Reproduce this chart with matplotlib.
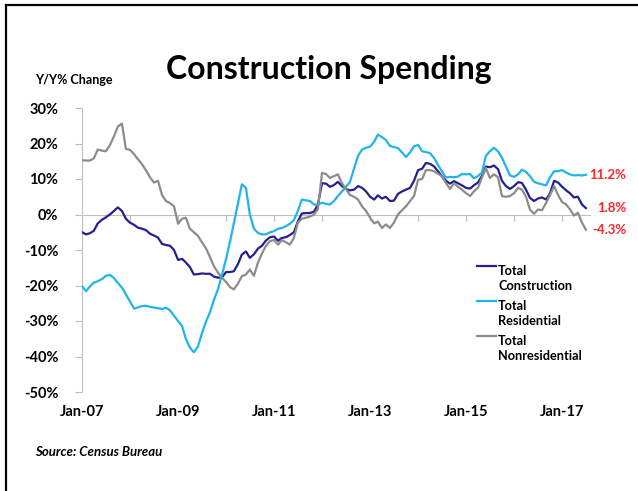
import matplotlib
matplotlib.use("Agg")
import matplotlib.pyplot as plt
import matplotlib.dates as mdates
import pandas as pd
from matplotlib.lines import Line2D
from matplotlib.legend_handler import HandlerLine2D

plt.rcParams['font.family'] = ['Lato', 'DejaVu Sans']

# monthly Y/Y % change, Jan-07 .. Jul-17
construction = [
    -5.0, -5.6, -5.3, -4.6, -2.5, -1.5, -0.8, 0.0, 1.0, 2.0, 1.0, -1.2,
    -2.3, -2.9, -3.7, -4.0, -4.4, -5.4, -5.9, -6.5, -8.3, -8.6, -8.8, -10.0,
    -12.8, -12.5, -13.5, -14.8, -16.9, -16.8, -16.6, -16.7, -16.7, -17.5, -17.8, -17.7,
    -16.2, -16.2, -16.0, -14.0, -11.3, -10.4, -12.2, -11.2, -9.6, -8.8, -7.3, -6.4,
    -6.2, -7.4, -6.6, -6.4, -5.8, -5.0, -2.0, 0.3, 0.4, 0.4, 0.8, 2.8,
    8.8, 8.7, 7.8, 8.3, 9.2, 8.0, 7.2, 6.8, 7.0, 8.0, 7.5, 6.5,
    5.0, 4.2, 5.4, 4.5, 5.0, 3.8, 3.9, 5.8, 6.5, 7.0, 7.5, 9.5,
    12.5, 12.9, 14.5, 14.3, 13.6, 12.2, 10.8, 9.5, 8.7, 9.4, 8.8, 8.2,
    7.5, 7.3, 8.2, 9.0, 10.8, 13.5, 13.3, 13.8, 12.8, 9.5, 8.0, 7.2,
    8.0, 9.1, 8.9, 7.0, 4.7, 3.8, 4.5, 4.8, 4.2, 6.0, 9.5, 9.0,
    7.8, 6.8, 6.0, 4.8, 5.0, 2.8, 1.8,
]
residential = [
    -20.2, -21.6, -20.3, -19.2, -18.8, -18.2, -17.3, -17.0, -17.9, -19.3, -20.6, -22.5,
    -24.5, -26.5, -26.2, -25.8, -25.7, -26.0, -26.2, -26.4, -26.6, -26.3, -27.0, -28.5,
    -30.0, -31.5, -35.0, -37.5, -38.8, -37.2, -33.5, -30.2, -27.5, -24.0, -21.0, -17.0,
    -12.5, -7.5, -2.5, 3.0, 8.5, 7.5, 0.0, -4.0, -5.2, -5.6, -5.6, -5.0,
    -4.7, -4.0, -3.8, -3.3, -2.6, -1.6, 1.0, 4.2, 4.0, 3.8, 2.8, 2.8,
    3.3, 3.0, 2.8, 3.8, 5.2, 6.5, 7.8, 9.2, 13.0, 16.5, 18.3, 18.8,
    19.1, 20.5, 22.5, 21.8, 21.0, 19.3, 19.0, 18.7, 17.5, 16.2, 17.5, 19.2,
    19.6, 17.8, 17.6, 17.3, 16.0, 14.0, 12.2, 10.4, 10.6, 10.5, 10.7, 11.4,
    11.3, 11.4, 10.2, 10.8, 11.8, 16.5, 17.8, 18.8, 17.8, 16.0, 13.5, 11.0,
    10.6, 11.3, 12.6, 12.0, 10.8, 9.2, 8.8, 8.5, 8.2, 10.5, 12.2, 12.2,
    12.5, 11.8, 11.3, 11.0, 11.1, 11.0, 11.2,
]
nonresidential = [
    15.3, 15.2, 15.2, 15.8, 18.3, 18.0, 17.8, 19.5, 22.0, 24.8, 25.6, 18.5,
    18.2, 17.0, 15.6, 14.2, 12.5, 10.5, 9.0, 9.5, 5.5, 3.8, 3.2, 2.3,
    -2.6, -1.2, -0.9, -4.0, -5.0, -6.0, -7.8, -9.5, -12.0, -14.6, -16.4, -17.8,
    -19.0, -20.5, -21.1, -19.5, -17.4, -16.9, -15.5, -17.3, -13.5, -11.0, -8.8, -7.5,
    -7.2, -8.5, -7.2, -7.8, -8.5, -6.6, -2.3, -1.2, -0.9, -0.6, 0.0, 1.5,
    11.7, 11.4, 10.3, 10.8, 11.3, 8.8, 7.2, 5.5, 5.0, 4.2, 2.3, 1.0,
    -0.9, -2.5, -2.0, -3.8, -2.8, -3.8, -2.3, 0.0, 1.2, 2.3, 3.8, 5.2,
    9.8, 10.0, 12.5, 12.5, 12.2, 11.5, 10.8, 8.9, 7.2, 8.8, 7.8, 7.0,
    6.0, 5.2, 6.5, 7.5, 10.3, 13.1, 10.3, 11.3, 10.5, 5.2, 5.0, 5.2,
    6.0, 7.5, 7.0, 5.0, 1.4, 0.2, 1.4, 1.2, 3.3, 5.5, 8.0, 5.5,
    3.5, 2.8, 1.5, -0.3, 0.5, -2.3, -4.3,
]

labels = ["Total\nConstruction", "Total\nResidential", "Total\nNonresidential"]
colors = ["#24218F", "#21B4EA", "#8C8C8C"]

months = pd.date_range("2007-01-01", periods=len(construction), freq="MS")
x = mdates.date2num(months)
year_ticks = mdates.date2num(pd.date_range("2007-01-01", "2017-01-01", freq="YS"))
label_ticks = year_ticks[::2]
tick_names = [d.strftime("%b-%y") for d in pd.date_range("2007-01-01", "2017-01-01", freq="2YS")]

LEG_SIZE = 9.2
LEG_LINESPACING = 1.32


class TopLineHandler(HandlerLine2D):
    # put the legend line next to the first row of a two-row label
    def create_artists(self, legend, orig_handle, xdescent, ydescent,
                       width, height, fontsize, trans):
        row = fontsize * 1.05
        return super().create_artists(legend, orig_handle, xdescent, ydescent - 2 * row,
                                      width, height, fontsize, trans)


fig = plt.figure(figsize=(6.38, 4.91), dpi=100)
ax = fig.add_axes([82 / 638, 99 / 491, 508 / 638, 284 / 491])

grey = "#BFBFBF"
handles = []
for lab, vals, col in zip(labels, [construction, residential, nonresidential], colors):
    h, = ax.plot(x, vals, color=col, lw=1.6, label=lab, zorder=3)
    handles.append(h)

ax.set_ylim(-50, 30)
ax.set_yticks(range(-50, 31, 10))
ax.set_yticklabels([f"{v}%" for v in range(-50, 31, 10)])
ax.set_xlim(x[0], mdates.date2num(pd.Timestamp("2017-08-01")))

ax.spines["top"].set_visible(False)
ax.spines["right"].set_visible(False)
ax.spines["left"].set_color(grey)
ax.spines["bottom"].set_color(grey)
ax.spines["bottom"].set_position(("data", 0))
ax.set_xticks(year_ticks)
ax.tick_params(axis="x", direction="out", length=4, color=grey, labelbottom=False)
ax.tick_params(axis="y", direction="out", length=5, color=grey, pad=12,
               labelsize=10.5)
for t in ax.get_yticklabels():
    t.set_fontweight("bold")

sec = ax.secondary_xaxis("bottom")
sec.set_xticks(label_ticks)
sec.set_xticklabels(tick_names, fontsize=10.5, fontweight="bold")
sec.tick_params(length=0, pad=9)
sec.spines["bottom"].set_visible(False)

# end-of-series value labels
for vals in [construction, residential, nonresidential]:
    ax.annotate(f"{vals[-1]:.1f}%", xy=(x[-1], vals[-1]), xytext=(29, 0),
                textcoords="offset points", ha="right", va="center",
                color="#FF2626", fontsize=9.5, fontweight="bold")

leg = ax.legend(handles=handles, loc="upper left", frameon=False,
                bbox_to_anchor=(477 / 638, 1 - 265 / 491),
                bbox_transform=fig.transFigure,
                borderpad=0, borderaxespad=0, handlelength=1.45,
                handletextpad=0.2, labelspacing=0.62,
                prop={"weight": "bold", "size": LEG_SIZE},
                handler_map={Line2D: TopLineHandler()})
for t in leg.get_texts():
    t.set_linespacing(LEG_LINESPACING)

fig.text(329 / 638, 1 - 69 / 491, "Construction Spending", ha="center",
         va="center", fontsize=23, fontweight="bold")
fig.text(35 / 638, 1 - 80 / 491, "Y/Y% Change", ha="left", va="center",
         fontsize=9, fontweight="bold")
fig.text(35 / 638, 1 - 452 / 491, "Source: Census Bureau", ha="left",
         va="center", fontsize=9.5, fontweight="bold", style="italic")

# frame lines on top and left edge
fig.add_artist(Line2D([6 / 638, 1], [1 - 5 / 491, 1 - 5 / 491], color="black", lw=1.6))
fig.add_artist(Line2D([6 / 638, 6 / 638], [0, 1 - 5 / 491], color="black", lw=1.6))

fig.savefig("out.png", dpi=100)
